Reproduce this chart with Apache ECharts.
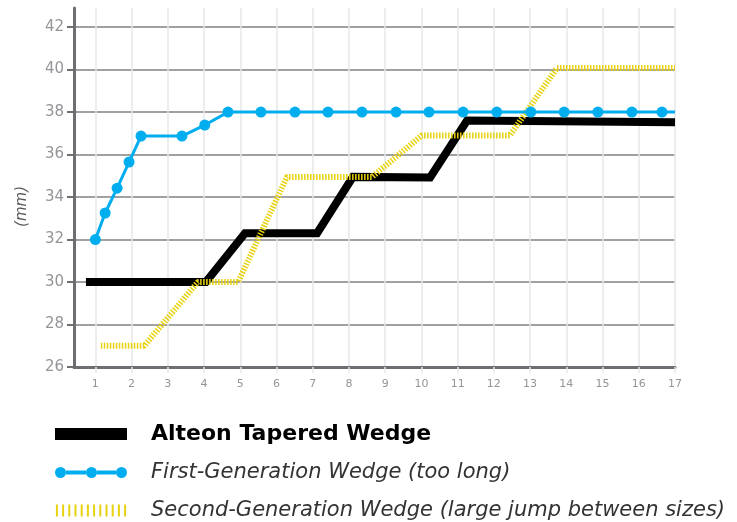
<!DOCTYPE html>
<html>
<head>
<meta charset="utf-8">
<script src="https://cdn.jsdelivr.net/npm/echarts@6/dist/echarts.min.js"></script>
<style>html,body{margin:0;padding:0;background:#fff}#chart{width:737px;height:522px}</style>
</head>
<body>
<div id="chart"></div>
<script>
var alteonX = [0.74, 4.05, 5.13, 7.12, 8.11, 10.24, 11.26, 17];
var alteonY = [30, 30, 32.3, 32.3, 34.95, 34.92, 37.6, 37.52];

var firstGenX = [1, 1.27, 1.6, 1.93, 2.26, 3.39, 4.02, 4.66, 5.57, 6.51, 7.42, 8.36, 9.3, 10.21, 11.15, 12.08, 13.02, 13.94, 14.87, 15.81, 16.64, 17];
var firstGenY = [32, 33.25, 34.42, 35.65, 36.87, 36.87, 37.39, 38, 38, 38, 38, 38, 38, 38, 38, 38, 38, 38, 38, 38, 38, 38];

var secondGenX = [1.15, 2.35, 3.83, 4.94, 6.29, 8.64, 10.01, 12.44, 13.74, 17];
var secondGenY = [27, 27, 30, 30, 34.95, 34.95, 36.9, 36.9, 40.07, 40.07];

var xTicks = [1, 2, 3, 4, 5, 6, 7, 8, 9, 10, 11, 12, 13, 14, 15, 16, 17];
var yTicks = [26, 28, 30, 32, 34, 36, 38, 40, 42];

var names = [
    'Alteon Tapered Wedge',
    'First-Generation Wedge (too long)',
    'Second-Generation Wedge (large jump between sizes)'
];

function zip(xs, ys) {
    var res = [];
    for (var i = 0; i < xs.length; i++) {
        res.push([xs[i], ys[i]]);
    }
    return res;
}

// first-gen line stops at the right edge without a dot
var firstGenData = zip(firstGenX, firstGenY);
firstGenData[firstGenData.length - 1] = {value: firstGenData[firstGenData.length - 1], symbolSize: 0};

// legend icons: blue line with three dots, yellow hatch bars
var dotsIcon = 'path://M0,6a5.5,5.5 0 1,0 11,0a5.5,5.5 0 1,0 -11,0Z' +
    'M11,4L31,4L31,8L11,8Z' +
    'M31,6a5.5,5.5 0 1,0 11,0a5.5,5.5 0 1,0 -11,0Z' +
    'M42,4L61,4L61,8L42,8Z' +
    'M61,6a5.5,5.5 0 1,0 11,0a5.5,5.5 0 1,0 -11,0Z';
var hatchIcon = 'path://';
for (var k = 0; k < 12; k++) {
    var x0 = k * 6.2;
    hatchIcon += 'M' + x0 + ',0L' + (x0 + 2) + ',0L' + (x0 + 2) + ',12L' + x0 + ',12Z';
}

var font = 'DejaVu Sans';

var option = {
    animation: false,
    backgroundColor: '#fff',
    grid: {left: 74, right: 62, top: 8, bottom: 155},
    xAxis: {
        type: 'value',
        min: 0.41,
        max: 17,
        axisLine: {lineStyle: {color: '#6d6e71', width: 3}},
        axisTick: {customValues: xTicks, length: 6, lineStyle: {color: '#e6e7e8', width: 1.5}},
        axisLabel: {customValues: xTicks, margin: 12, fontSize: 11, color: '#939598', fontFamily: font},
        splitLine: {show: true, lineStyle: {color: '#e6e7e8', width: 1.5}}
    },
    yAxis: {
        type: 'value',
        min: 26,
        max: 42.9,
        axisLine: {show: true, lineStyle: {color: '#6d6e71', width: 3}},
        axisTick: {show: true, customValues: yTicks, length: 7, lineStyle: {color: '#6d6e71', width: 2}},
        axisLabel: {customValues: yTicks, margin: 10, fontSize: 15, color: '#939598', fontFamily: font},
        splitLine: {show: true, lineStyle: {color: '#808285', width: 1.5}}
    },
    graphic: [{
        type: 'text',
        left: 15,
        top: 186,
        rotation: Math.PI / 2,
        style: {text: '(mm)', fontSize: 15, fontStyle: 'italic', fontFamily: font, fill: '#58595b'}
    }],
    legend: {
        orient: 'vertical',
        left: 50,
        top: 418,
        height: 140,
        itemWidth: 72,
        itemHeight: 12,
        itemGap: 17,
        selectedMode: false,
        data: [
            {name: names[0], icon: 'rect', itemStyle: {color: '#000', borderWidth: 0},
                textStyle: {fontSize: 22, fontWeight: 'bold', color: '#000', fontFamily: font, padding: [0, 0, 0, 19]}},
            {name: names[1], icon: dotsIcon, itemStyle: {color: '#00aeef', borderWidth: 0},
                textStyle: {fontSize: 21, fontStyle: 'italic', color: '#333', fontFamily: font, padding: [0, 0, 0, 19]}},
            {name: names[2], icon: hatchIcon, itemStyle: {color: '#e8d20f', borderWidth: 0},
                textStyle: {fontSize: 21, fontStyle: 'italic', color: '#333', fontFamily: font, padding: [0, 0, 0, 19]}}
        ]
    },
    series: [
        {
            name: names[0],
            type: 'line',
            data: zip(alteonX, alteonY),
            symbol: 'none',
            lineStyle: {color: '#000', width: 8, join: 'miter', cap: 'butt'},
            itemStyle: {color: '#000'},
            z: 2
        },
        {
            name: names[2],
            type: 'line',
            data: zip(secondGenX, secondGenY),
            symbol: 'none',
            lineStyle: {color: '#e8d20f', width: 6, type: [1.5, 1.5]},
            itemStyle: {color: '#e8d20f'},
            z: 3
        },
        {
            name: names[1],
            type: 'line',
            data: firstGenData,
            symbol: 'circle',
            symbolSize: 11,
            lineStyle: {color: '#00aeef', width: 3},
            itemStyle: {color: '#00aeef'},
            z: 4
        }
    ]
};

var chart = echarts.init(document.getElementById('chart'));
chart.setOption(option);
</script>
</body>
</html>
